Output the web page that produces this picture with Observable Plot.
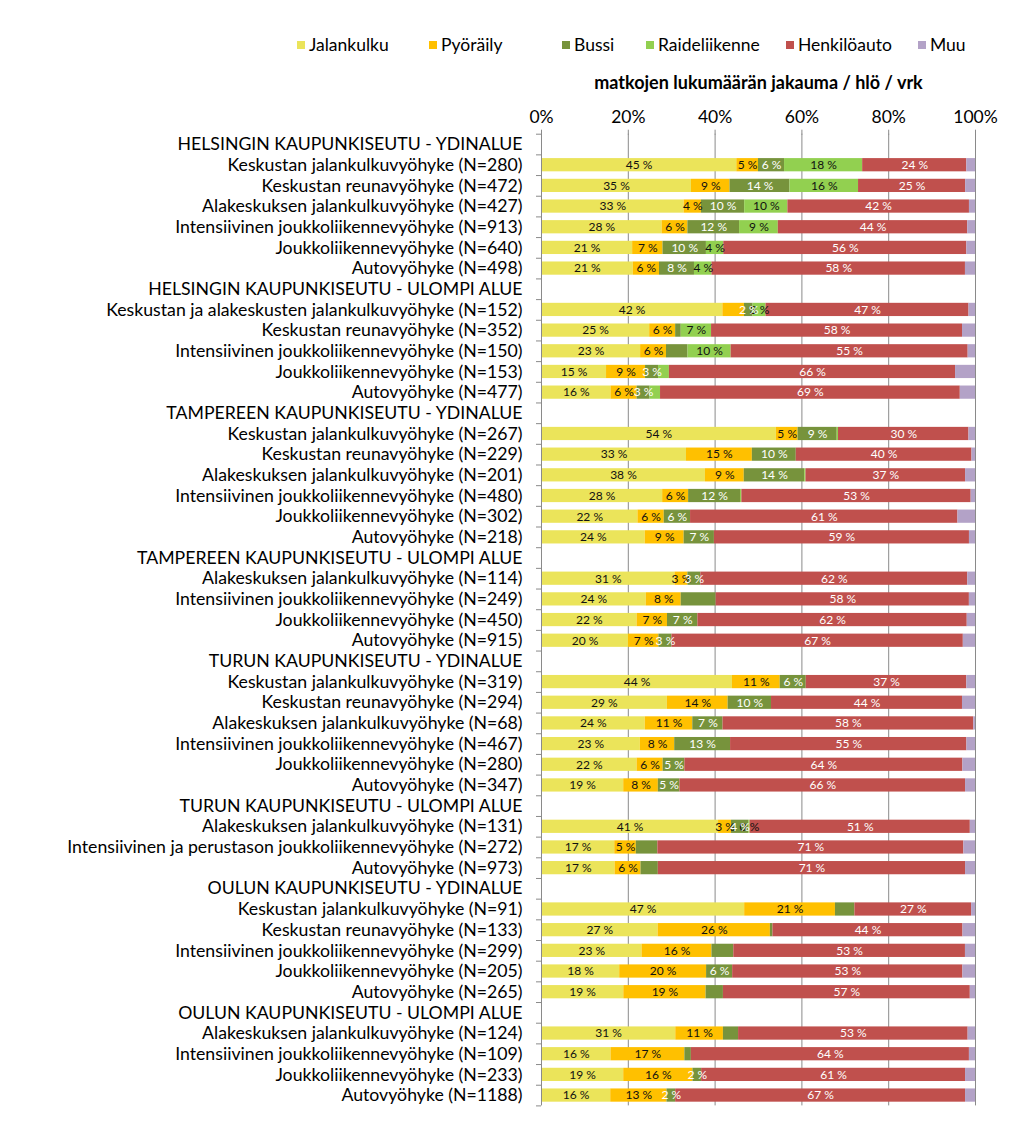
<!DOCTYPE html>
<html><head><meta charset="utf-8">
<script src="https://cdn.jsdelivr.net/npm/d3@7"></script>
<script src="https://cdn.jsdelivr.net/npm/@observablehq/plot@0.6"></script>
<style>
body{margin:0;background:#fff;font-family:Lato,sans-serif;}
#legend{position:relative;height:66px;width:1024px;}
.item{position:absolute;top:35px;font-size:17.5px;line-height:20px;display:flex;align-items:center;color:#000;white-space:nowrap;}
.sw{width:8px;height:8px;margin-right:4px;}
</style></head><body>
<div id="legend"></div><div id="chart"></div>
<script>
const seriesNames = ["Jalankulku","Pyöräily","Bussi","Raideliikenne","Henkilöauto","Muu"];
const seriesColors = ["#EBE45A","#FFC000","#77933C","#92D050","#C0504D","#B3A2C7"];
const legendX = [297,429,562,646,786,918];
const axisTitle = "matkojen lukumäärän jakauma / hlö / vrk";
const xTicks = [0,0.2,0.4,0.6,0.8,1];

const groupHeaders = [
  "HELSINGIN KAUPUNKISEUTU - YDINALUE",
  "HELSINGIN KAUPUNKISEUTU - ULOMPI ALUE",
  "TAMPEREEN KAUPUNKISEUTU - YDINALUE",
  "TAMPEREEN KAUPUNKISEUTU - ULOMPI ALUE",
  "TURUN KAUPUNKISEUTU - YDINALUE",
  "TURUN KAUPUNKISEUTU - ULOMPI ALUE",
  "OULUN KAUPUNKISEUTU - YDINALUE",
  "OULUN KAUPUNKISEUTU - ULOMPI ALUE"
];
const groupSizes = [6,5,6,4,6,3,5,4];
const categories = [
  "Keskustan jalankulkuvyöhyke (N=280)","Keskustan reunavyöhyke (N=472)","Alakeskuksen jalankulkuvyöhyke (N=427)","Intensiivinen joukkoliikennevyöhyke (N=913)","Joukkoliikennevyöhyke (N=640)","Autovyöhyke (N=498)",
  "Keskustan ja alakeskusten jalankulkuvyöhyke (N=152)","Keskustan reunavyöhyke (N=352)","Intensiivinen joukkoliikennevyöhyke (N=150)","Joukkoliikennevyöhyke (N=153)","Autovyöhyke (N=477)",
  "Keskustan jalankulkuvyöhyke (N=267)","Keskustan reunavyöhyke (N=229)","Alakeskuksen jalankulkuvyöhyke (N=201)","Intensiivinen joukkoliikennevyöhyke (N=480)","Joukkoliikennevyöhyke (N=302)","Autovyöhyke (N=218)",
  "Alakeskuksen jalankulkuvyöhyke (N=114)","Intensiivinen joukkoliikennevyöhyke (N=249)","Joukkoliikennevyöhyke (N=450)","Autovyöhyke (N=915)",
  "Keskustan jalankulkuvyöhyke (N=319)","Keskustan reunavyöhyke (N=294)","Alakeskuksen jalankulkuvyöhyke (N=68)","Intensiivinen joukkoliikennevyöhyke (N=467)","Joukkoliikennevyöhyke (N=280)","Autovyöhyke (N=347)",
  "Alakeskuksen jalankulkuvyöhyke (N=131)","Intensiivinen ja perustason joukkoliikennevyöhyke (N=272)","Autovyöhyke (N=973)",
  "Keskustan jalankulkuvyöhyke (N=91)","Keskustan reunavyöhyke (N=133)","Intensiivinen joukkoliikennevyöhyke (N=299)","Joukkoliikennevyöhyke (N=205)","Autovyöhyke (N=265)",
  "Alakeskuksen jalankulkuvyöhyke (N=124)","Intensiivinen joukkoliikennevyöhyke (N=109)","Joukkoliikennevyöhyke (N=233)","Autovyöhyke (N=1188)"
];
const jalankulku  = [45,35,33,28,21,21, 42,25,23,15,16, 54,33,38,28,22,24, 31,24,22,20, 44,29,24,23,22,19, 41,17,17, 47,27,23,18,19, 31,16,19,16];
const pyoraily    = [5,9,4,6,7,6, 5,6,6,9,6, 5,15,9,6,6,9, 3,8,7,7, 11,14,11,8,6,8, 3,5,6, 21,26,16,20,19, 11,17,16,13];
const bussi       = [6,14,10,12,10,8, 2,1.3,5,3,3, 9,10,14,12,6,7, 3,8,7,3, 6,10,7,13,5,5, 4,5,4, 4.5,0.6,5,6,4, 3.5,1.5,2,2];
const raide       = [18,16,10,9,4,4, 3,7,10,2.5,2.4, 0.3,0,0.3,0.3,0,0, 0,0,0,0, 0,0,0,0,0,0, 0.3,0,0, 0,0,0,0,0, 0,0,0,0];
const henkiloauto = [24,25,42,44,56,58, 47,58,55,66,69, 30,40,37,53,61,59, 62,58,62,67, 37,44,58,55,64,66, 51,71,71, 27,44,53,53,57, 53,64,61,67];
const muu         = [2,2.3,1.4,1.8,2,2.3, 1.5,3,1.7,4.6,3.5, 1.5,0.8,2.3,1,4,1.4, 1.8,1.4,1.9,2.8, 2,3,0.4,2,2.9,2.3, 1.2,2.7,2.3, 0.9,2.9,2.3,2.9,1.2, 1.7,1.4,2.3,2.3];
// segments whose value label is not shown in the original
const unlabeled = [
  ["Keskustan ja alakeskusten jalankulkuvyöhyke (N=152)","Pyöräily"],
  ["Keskustan reunavyöhyke (N=352)","Bussi"],
  ["Intensiivinen joukkoliikennevyöhyke (N=150)","Bussi"],
  ["Joukkoliikennevyöhyke (N=153)","Raideliikenne"],
  ["Autovyöhyke (N=477)","Raideliikenne"],
  ["Keskustan jalankulkuvyöhyke (N=267)","Raideliikenne"],
  ["Alakeskuksen jalankulkuvyöhyke (N=201)","Raideliikenne"],
  ["Intensiivinen joukkoliikennevyöhyke (N=480)","Raideliikenne"],
  ["Intensiivinen joukkoliikennevyöhyke (N=249)","Bussi"],
  ["Intensiivinen ja perustason joukkoliikennevyöhyke (N=272)","Bussi"],
  ["Autovyöhyke (N=973)","Bussi"],
  ["Keskustan jalankulkuvyöhyke (N=91)","Bussi"],
  ["Keskustan reunavyöhyke (N=133)","Bussi"],
  ["Intensiivinen joukkoliikennevyöhyke (N=299)","Bussi"],
  ["Autovyöhyke (N=265)","Bussi"],
  ["Alakeskuksen jalankulkuvyöhyke (N=124)","Bussi"],
  ["Intensiivinen joukkoliikennevyöhyke (N=109)","Bussi"]
];

// ---- build table ----
const seriesValues = [jalankulku,pyoraily,bussi,raide,henkiloauto,muu];
const rows = [];
let k = 0;
groupHeaders.forEach((h,g) => { rows.push(h); for (let i=0;i<groupSizes[g];i++) rows.push(categories[k++]); });
const hidden = new Set(unlabeled.map(([c,s]) => c + "|" + s));
const data = [];
categories.forEach((c,i) => seriesNames.forEach((s,j) => data.push({row:c, series:s, value:seriesValues[j][i]})));
const whiteText = new Set(["Bussi","Henkilöauto"]);
const labelOf = d => (d.series === "Muu" || d.value <= 0 || hidden.has(d.row + "|" + d.series)) ? null : Math.round(d.value) + " %";

// ---- legend ----
const leg = document.getElementById("legend");
seriesNames.forEach((s,i) => {
  const it = document.createElement("div"); it.className = "item"; it.style.left = legendX[i] + "px";
  const sw = document.createElement("span"); sw.className = "sw"; sw.style.background = seriesColors[i];
  it.appendChild(sw); it.appendChild(document.createTextNode(s)); leg.appendChild(it);
});

// ---- chart ----
const H = 1071, mt = 67.7, mb = 31.6;
const step = (H - mt - mb) / rows.length;
const stackOpts = {x:"value", y:"row", z:"series", order:seriesNames, offset:"normalize"};
const chart = Plot.plot({
  width:1024, height:H, marginLeft:541, marginRight:49, marginTop:mt, marginBottom:mb,
  style:{fontFamily:"Lato, sans-serif", color:"#000", background:"#fff"},
  x:{domain:[0,1]},
  y:{domain:rows, paddingInner:0.36, paddingOuter:0.18, label:null},
  color:{domain:seriesNames, range:seriesColors},
  marks:[
    Plot.gridX({ticks:xTicks.slice(1), stroke:"#8a8a8a", strokeOpacity:1}),
    Plot.barX(data, Plot.stackX({...stackOpts, fill:"series"})),
    Plot.text(data, Plot.stackX({...stackOpts, text:d => whiteText.has(d.series) ? null : labelOf(d), fill:"#111", fontSize:12})),
    Plot.text(data, Plot.stackX({...stackOpts, text:d => whiteText.has(d.series) ? labelOf(d) : null, fill:"#fff", fontSize:12})),
    Plot.ruleX([0], {stroke:"#8a8a8a"}),
    Plot.axisX({anchor:"top", ticks:xTicks, tickFormat:d3.format(".0%"), tickSize:5, tickPadding:6, fontSize:17.5, stroke:"#8a8a8a", label:null}),
    Plot.text([axisTitle], {frameAnchor:"top", dy:-51, fontSize:18, fontWeight:"bold", lineAnchor:"middle"}),
    Plot.axisY({anchor:"left", tickSize:0, tickPadding:19, fontSize:17.7, label:null}),
    Plot.axisY({anchor:"left", tickSize:5, tickFormat:() => "", dy:-step/2, stroke:"#8a8a8a", label:null}),
    Plot.axisY({anchor:"left", ticks:[rows[rows.length-1]], tickSize:5, tickFormat:() => "", dy:step/2, stroke:"#8a8a8a", label:null})
  ]
});
document.getElementById("chart").appendChild(chart);
</script></body></html>
